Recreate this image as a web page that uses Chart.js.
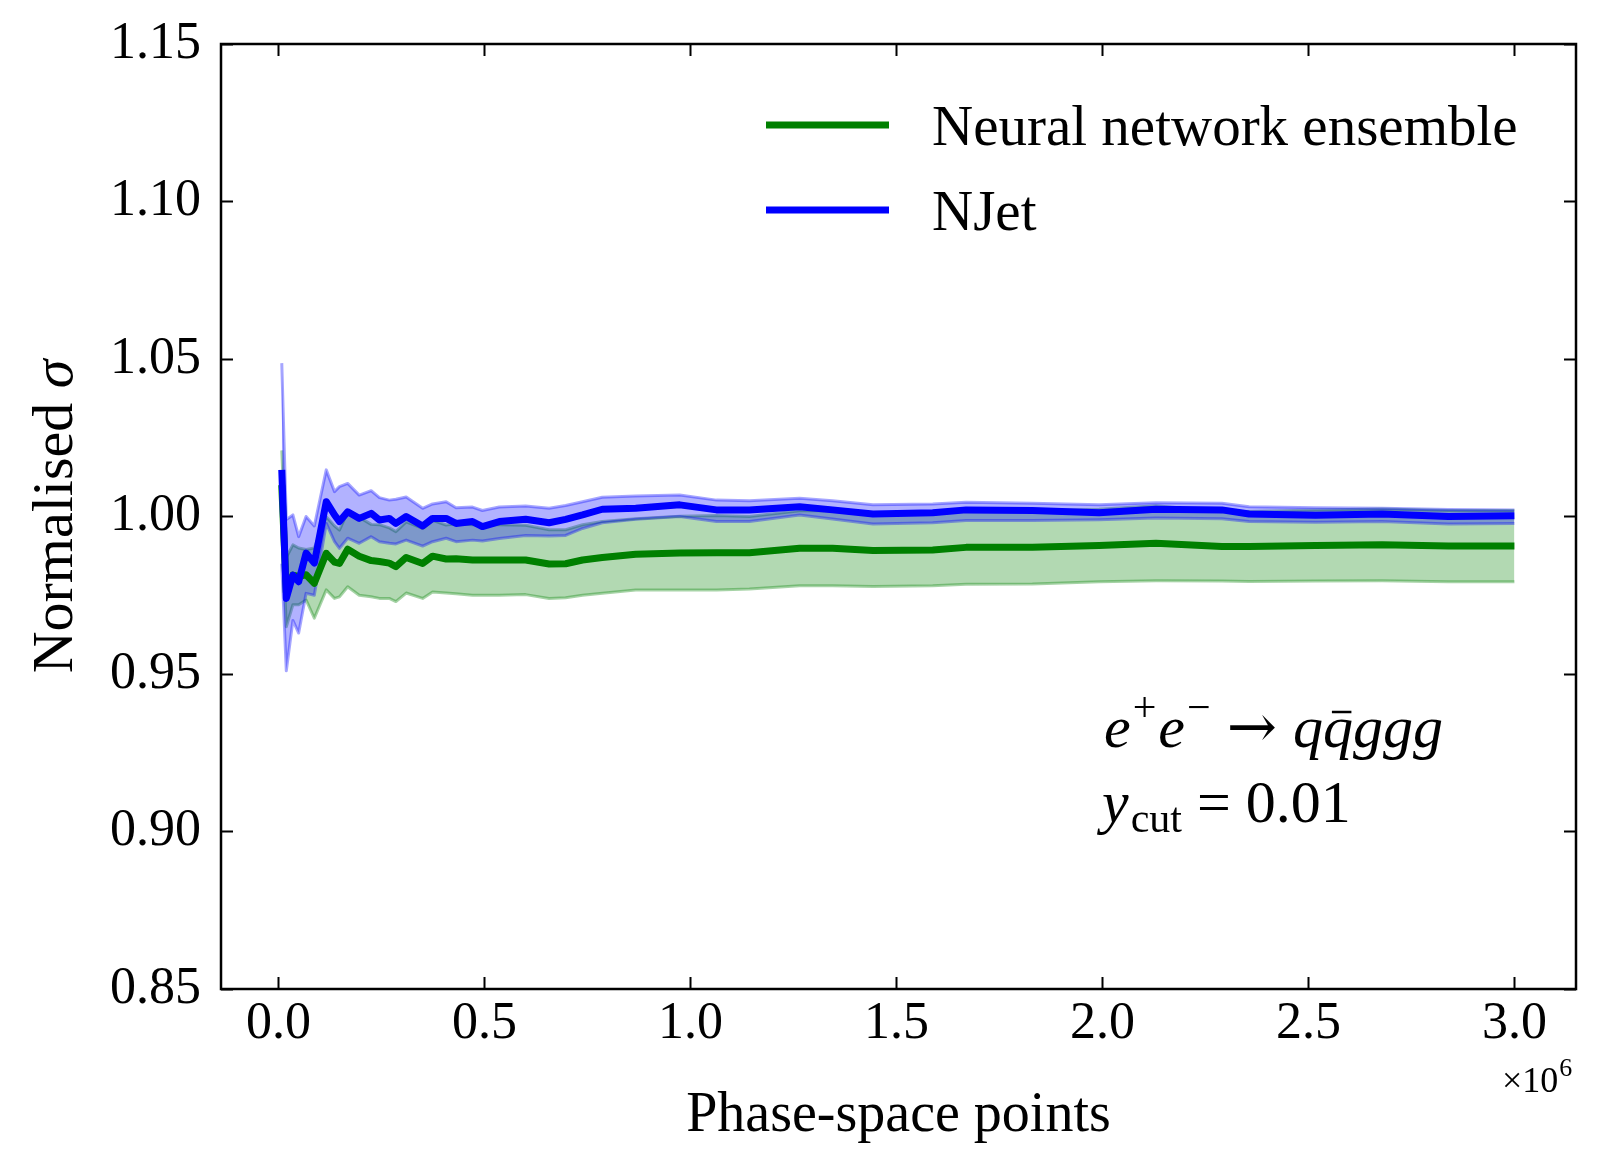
<!DOCTYPE html>
<html>
<head>
<meta charset="utf-8">
<title>Normalised cross section vs phase-space points</title>
<script src="https://cdn.jsdelivr.net/npm/chart.js@4.4.1/dist/chart.umd.min.js"></script>
<style>
  html, body { margin: 0; padding: 0; background: #fff; }
  canvas { display: block; }
</style>
</head>
<body>
<canvas id="sigmaChart" width="1603" height="1169"></canvas>
<script>
// --- Data (x in units of 10^6 phase-space points) ---
const pointsM = [0.008, 0.019, 0.035, 0.049, 0.067, 0.087, 0.116, 0.136, 0.148, 0.168,
  0.196, 0.225, 0.245, 0.269, 0.285, 0.31, 0.35, 0.374, 0.407, 0.431,
  0.471, 0.495, 0.536, 0.6, 0.657, 0.697, 0.738, 0.786, 0.867, 0.974,
  1.063, 1.143, 1.265, 1.345, 1.443, 1.588, 1.669, 1.83, 1.992, 2.13,
  2.29, 2.356, 2.517, 2.679, 2.84, 3.0];

const njetMean = [1.0148, 0.974, 0.9814, 0.9793, 0.9884, 0.9852, 1.0047, 1.0005, 0.9984, 1.0015,
  0.9994, 1.001, 0.9989, 0.9994, 0.9978, 1.0, 0.997, 0.9994, 0.9994, 0.9978,
  0.9984, 0.9968, 0.9984, 0.9991, 0.998, 0.9991, 1.0005, 1.0023, 1.0026, 1.0037,
  1.0021, 1.0021, 1.0031, 1.0021, 1.0008, 1.0012, 1.0021, 1.0019, 1.0012, 1.0023,
  1.0021, 1.0008, 1.0004, 1.0008, 1.0, 1.0002];
const njetUpper = [1.0487, 0.999, 1.0005, 0.9936, 1.0, 0.997, 1.0148, 1.0079, 1.0095, 1.0105,
  1.0068, 1.0082, 1.006, 1.0052, 1.0055, 1.0062, 1.0026, 1.004, 1.0047, 1.0028,
  1.003, 1.0019, 1.003, 1.0033, 1.0026, 1.0035, 1.0047, 1.0061, 1.0065, 1.0068,
  1.0052, 1.005, 1.0058, 1.005, 1.0037, 1.004, 1.0045, 1.0042, 1.0037, 1.0044,
  1.0042, 1.0031, 1.0028, 1.0026, 1.0022, 1.0021];
const njetLower = [0.985, 0.951, 0.967, 0.963, 0.9756, 0.975, 0.9978, 0.992, 0.9899, 0.9931,
  0.9915, 0.9936, 0.992, 0.9915, 0.9913, 0.9925, 0.9906, 0.992, 0.9931, 0.992,
  0.9925, 0.9922, 0.993, 0.994, 0.9938, 0.994, 0.9962, 0.998, 0.9991, 1.0,
  0.9984, 0.9984, 1.0005, 0.9992, 0.9976, 0.998, 0.9987, 0.9987, 0.999, 0.9995,
  0.9993, 0.9984, 0.9982, 0.9984, 0.9976, 0.9978];

const nnMean = [1.01, 0.976, 0.9814, 0.981, 0.9815, 0.9788, 0.9883, 0.9855, 0.9851, 0.9896,
  0.9874, 0.986, 0.9857, 0.9852, 0.9841, 0.987, 0.9851, 0.9874, 0.9865, 0.9866,
  0.9862, 0.9862, 0.9862, 0.9862, 0.9849, 0.985, 0.9862, 0.987, 0.988, 0.9884,
  0.9885, 0.9885, 0.9899, 0.9899, 0.9892, 0.9894, 0.9902, 0.9902, 0.9908, 0.9915,
  0.9905, 0.9905, 0.9908, 0.991, 0.9906, 0.9906];
const nnUpper = [1.021, 0.987, 0.991, 0.99, 0.9895, 0.99, 0.9999, 0.997, 0.9957, 1.0015,
  0.9998, 0.9975, 0.9974, 0.9964, 0.9952, 0.9983, 0.9962, 0.9988, 0.9973, 0.9977,
  0.9974, 0.9974, 0.9974, 0.9972, 0.9958, 0.9958, 0.9974, 0.9984, 0.9993, 1.0001,
  1.0003, 1.0, 1.0018, 1.0018, 1.0006, 1.0008, 1.0019, 1.0018, 1.0023, 1.0034,
  1.0015, 1.0016, 1.0021, 1.0024, 1.0019, 1.0019];
const nnLower = [0.999, 0.965, 0.972, 0.972, 0.9735, 0.9677, 0.9767, 0.974, 0.9745, 0.9777,
  0.975, 0.9745, 0.974, 0.974, 0.973, 0.9757, 0.974, 0.976, 0.9757, 0.9755,
  0.975, 0.975, 0.975, 0.9752, 0.974, 0.9742, 0.975, 0.9756, 0.9767, 0.9767,
  0.9767, 0.977, 0.978, 0.978, 0.9778, 0.978, 0.9785, 0.9786, 0.9793, 0.9796,
  0.9795, 0.9794, 0.9795, 0.9796, 0.9793, 0.9793];

const xTicks = [0.0, 0.5, 1.0, 1.5, 2.0, 2.5, 3.0];
const yTicks = [0.85, 0.90, 0.95, 1.00, 1.05, 1.10, 1.15];
const legendLabels = ['Neural network ensemble', 'NJet'];

// --- Styling ---
const SERIF = '"Liberation Serif", "DejaVu Serif", serif';
const GREEN = '#008000';
const BLUE = '#0000ff';
const GREEN_BAND = 'rgba(0, 128, 0, 0.3)';
const BLUE_BAND = 'rgba(0, 0, 255, 0.3)';
const GREEN_EDGE = 'rgba(0, 128, 0, 0.35)';
const BLUE_EDGE = 'rgba(0, 0, 255, 0.35)';

function toPoints(values) {
    return pointsM.map((x, i) => ({ x: x, y: values[i] }));
}

function lineSet(label, values, color, width, fill) {
    return {
        label: label,
        data: toPoints(values),
        borderColor: color,
        backgroundColor: fill || 'transparent',
        borderWidth: width,
        borderJoinStyle: 'round',
        pointRadius: 0,
        tension: 0,
        fill: fill ? '+1' : false
    };
}

// datasets are drawn last-to-first, so the first one ends up on top
const datasets = [
    lineSet('NJet', njetMean, BLUE, 7),
    lineSet('Neural network ensemble', nnMean, GREEN, 7),
    lineSet('njet-upper', njetUpper, BLUE_EDGE, 3, BLUE_BAND),
    lineSet('njet-lower', njetLower, BLUE_EDGE, 3),
    lineSet('nn-upper', nnUpper, GREEN_EDGE, 3, GREEN_BAND),
    lineSet('nn-lower', nnLower, GREEN_EDGE, 3)
];

function drawRuns(ctx, runs, x, y) {
    runs.forEach(r => {
        x += r.pre || 0;
        ctx.font = r.font;
        ctx.fillText(r.text, x, y + (r.dy || 0));
        const w = ctx.measureText(r.text).width;
        if (r.bar) {
            ctx.save();
            ctx.lineWidth = 2.5;
            ctx.beginPath();
            ctx.moveTo(x + w * 0.3, y - 35);
            ctx.lineTo(x + w * 0.95, y - 35);
            ctx.stroke();
            ctx.restore();
        }
        x += w + (r.post || 0);
    });
}

const decorations = {
    id: 'decorations',
    afterDraw(chart) {
        const { ctx, chartArea: a, scales: { x, y } } = chart;
        ctx.save();
        ctx.strokeStyle = '#000';
        ctx.fillStyle = '#000';

        // inward ticks on all four sides
        ctx.lineWidth = 2;
        ctx.beginPath();
        x.ticks.forEach(t => {
            const px = Math.round(x.getPixelForValue(t.value)) + 0.5;
            ctx.moveTo(px, a.bottom); ctx.lineTo(px, a.bottom - 12);
            ctx.moveTo(px, a.top); ctx.lineTo(px, a.top + 12);
        });
        y.ticks.forEach(t => {
            const py = Math.round(y.getPixelForValue(t.value)) + 0.5;
            ctx.moveTo(a.left, py); ctx.lineTo(a.left + 12, py);
            ctx.moveTo(a.right, py); ctx.lineTo(a.right - 12, py);
        });
        ctx.stroke();

        // frame
        ctx.lineWidth = 2.5;
        ctx.strokeRect(a.left, a.top, a.right - a.left, a.bottom - a.top);

        // legend
        ctx.textBaseline = 'alphabetic';
        ctx.textAlign = 'left';
        legendLabels.forEach((label, i) => {
            const ds = chart.data.datasets.find(d => d.label === label);
            const ly = 125 + i * 85;
            ctx.strokeStyle = ds.borderColor;
            ctx.lineWidth = 7;
            ctx.beginPath();
            ctx.moveTo(766, ly);
            ctx.lineTo(889, ly);
            ctx.stroke();
            ctx.font = '57px ' + SERIF;
            ctx.fillText(label, 932, ly + 20);
        });
        ctx.strokeStyle = '#000';

        // process annotation
        const it = 'italic 60px ' + SERIF;
        const rm = '60px ' + SERIF;
        const sm = '42px ' + SERIF;
        drawRuns(ctx, [
            { text: 'e', font: it },
            { text: '+', font: sm, dy: -26, pre: 2 },
            { text: 'e', font: it, pre: 2 },
            { text: '\u2212', font: sm, dy: -26, pre: 2 },
            { text: '\u2192', font: '60px "DejaVu Serif", serif', pre: 16, post: 16 },
            { text: 'q', font: it },
            { text: 'q', font: it, bar: true },
            { text: 'ggg', font: it }
        ], 1104, 747);
        drawRuns(ctx, [
            { text: 'y', font: it },
            { text: 'cut', font: '42px ' + SERIF, dy: 10, pre: 2 },
            { text: ' = 0.01', font: rm }
        ], 1102, 822);

        // axis titles
        ctx.font = '56px ' + SERIF;
        ctx.textAlign = 'center';
        ctx.textBaseline = 'middle';
        ctx.fillText('Phase-space points', (a.left + a.right) / 2, 1116);

        ctx.save();
        ctx.translate(72, (a.top + a.bottom) / 2);
        ctx.rotate(-Math.PI / 2);
        ctx.textAlign = 'left';
        ctx.textBaseline = 'alphabetic';
        ctx.font = '58px ' + SERIF;
        const w1 = ctx.measureText('Normalised ').width;
        ctx.font = 'italic 58px ' + SERIF;
        const w2 = ctx.measureText('\u03c3').width;
        ctx.font = '58px ' + SERIF;
        ctx.fillText('Normalised ', -(w1 + w2) / 2, 0);
        ctx.font = 'italic 58px ' + SERIF;
        ctx.fillText('\u03c3', -(w1 + w2) / 2 + w1, 0);
        ctx.restore();

        // offset text
        ctx.textAlign = 'left';
        ctx.textBaseline = 'alphabetic';
        ctx.font = '36px ' + SERIF;
        ctx.fillText('\u00d710', 1502, 1092);
        const wo = ctx.measureText('\u00d710').width;
        ctx.font = '26px ' + SERIF;
        ctx.fillText('6', 1502 + wo + 1, 1076);

        ctx.restore();
    }
};

new Chart(document.getElementById('sigmaChart').getContext('2d'), {
    type: 'line',
    data: { datasets: datasets },
    options: {
        responsive: false,
        animation: false,
        devicePixelRatio: 1,
        layout: { padding: { left: 0, top: 44, right: 27, bottom: 0 } },
        plugins: {
            legend: { display: false },
            tooltip: { enabled: false },
            title: { display: false }
        },
        scales: {
            x: {
                type: 'linear',
                min: -0.1395,
                max: 3.1495,
                grid: { display: false },
                border: { display: false },
                afterBuildTicks: s => { s.ticks = xTicks.map(v => ({ value: v })); },
                afterFit: s => { s.height = 180; },
                ticks: {
                    color: '#000',
                    padding: -4,
                    maxRotation: 0,
                    font: { family: SERIF, size: 52 },
                    callback: v => v.toFixed(1)
                }
            },
            y: {
                type: 'linear',
                min: 0.85,
                max: 1.15,
                grid: { display: false },
                border: { display: false },
                afterBuildTicks: s => { s.ticks = yTicks.map(v => ({ value: v })); },
                afterFit: s => { s.width = 221; },
                ticks: {
                    color: '#000',
                    padding: 12,
                    font: { family: SERIF, size: 52 },
                    callback: v => v.toFixed(2)
                }
            }
        }
    },
    plugins: [decorations]
});
</script>
</body>
</html>
